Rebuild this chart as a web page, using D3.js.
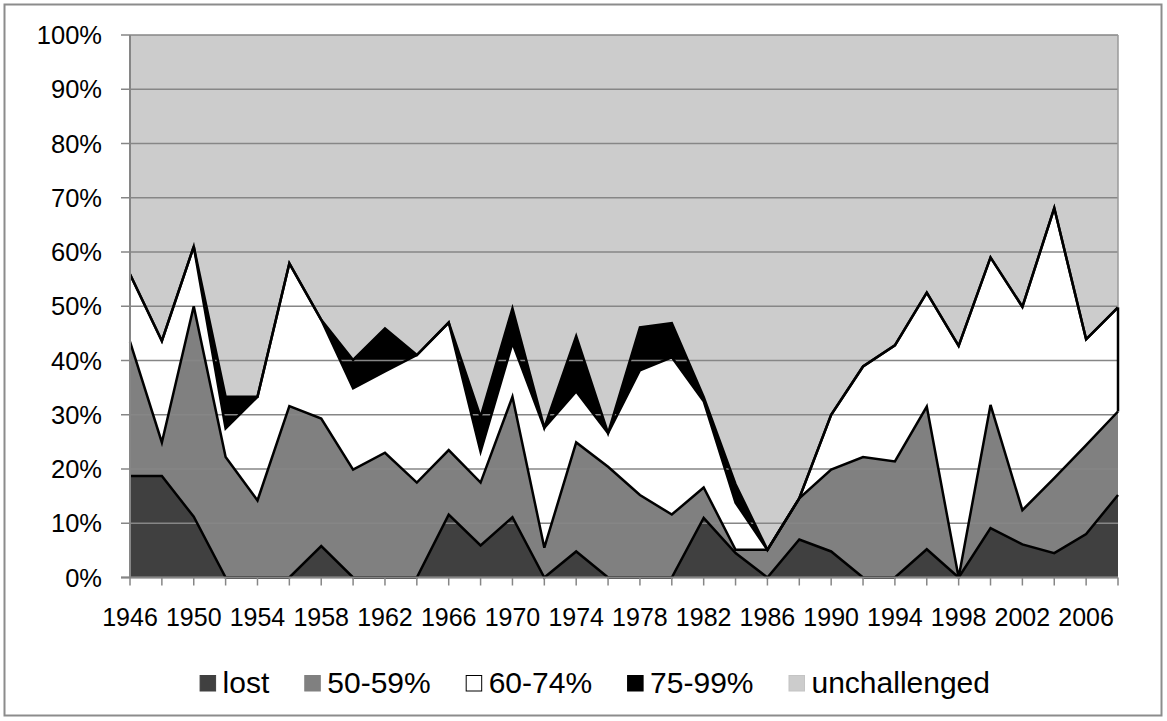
<!DOCTYPE html>
<html>
<head>
<meta charset="utf-8">
<script src="https://cdn.jsdelivr.net/npm/d3@7"></script>
<style>
html,body{margin:0;padding:0;background:#fff;}
svg{display:block;}
text{font-family:"Liberation Sans",Arial,sans-serif;fill:#000;}
</style>
</head>
<body>
<svg id="chart" width="1167" height="721"></svg>
<script>
// ---- data (percent of seats) ----
const years = [1946,1948,1950,1952,1954,1956,1958,1960,1962,1964,1966,1968,1970,1972,1974,1976,
               1978,1980,1982,1984,1986,1988,1990,1992,1994,1996,1998,2000,2002,2004,2006,2008];
const lost         = [18.7,18.7,11.2,0,0,0,5.8,0,0,0,11.6,5.9,11.1,0,4.8,0,0,0,11.0,4.5,0,7.0,4.8,0,0,5.2,0,9.1,6.1,4.5,8.0,15.2];
const pct50_59     = [24.8,6.2,38.8,22.2,14.2,31.6,23.5,19.9,23.0,17.5,11.9,11.6,22.2,5.5,20.1,20.4,15.2,11.6,5.6,0.6,5.1,7.6,15.1,22.2,21.4,26.3,0,22.7,6.3,13.8,16.4,15.4];
const pct60_74     = [12.4,18.7,11.0,5.3,19.1,26.3,18.2,15.0,15.0,23.5,23.5,5.7,9.9,22.1,9.4,6.2,23.0,29.0,15.9,8.7,0,0,10.1,16.7,21.4,21.0,42.7,27.2,37.5,49.8,19.5,19.2];
const pct75_99     = [0,0,0,5.8,0,0,0,5.2,7.9,0,0,6.4,6.4,0,10.2,0,7.9,6.3,0.8,3.4,0,0,0,0,0,0,0,0,0,0,0,0];
const unchallenged = [44.1,56.4,39.0,66.7,66.7,42.1,52.5,59.9,54.1,59.0,53.0,70.4,50.4,72.4,55.5,73.4,53.9,53.1,66.7,82.8,94.9,85.4,70.0,61.1,57.2,47.5,57.3,41.0,50.1,31.9,56.1,50.2];
const seriesNames  = ["lost","50-59%","60-74%","75-99%","unchallenged"];
const seriesValues = [lost,pct50_59,pct60_74,pct75_99,unchallenged];
const seriesColors = ["#404040","#808080","#ffffff","#000000","#cccccc"];
const yTicks = [0,10,20,30,40,50,60,70,80,90,100];
const xLabelYears = years.filter((y,i)=>i%2===0 && y<=2006);

// ---- layout ----
const svg = d3.select("#chart");
const L = 130, R = 1118, T = 35, B = 577.5;
const x = d3.scalePoint().domain(years).range([L,R]);
const y = d3.scaleLinear().domain([0,100]).range([B,T]);

// outer frame
svg.append("rect").attr("x",4.5).attr("y",4.5).attr("width",1157).attr("height",711)
  .attr("fill","#fff").attr("stroke","#8c8c8c").attr("stroke-width",2);

// stacked data
const rows = years.map((yr,i)=>{
  const o = {year:yr};
  seriesNames.forEach((n,k)=>o[n]=seriesValues[k][i]);
  return o;
});
const stacked = d3.stack().keys(seriesNames)(rows);

const area = d3.area().x(d=>x(d.data.year)).y0(d=>y(d[0])).y1(d=>y(d[1]));
svg.append("g").selectAll("path").data(stacked).join("path")
  .attr("d",area).attr("fill",(d,i)=>seriesColors[i]).attr("stroke","none");

// gridlines (over fills)
svg.append("g").selectAll("line").data(yTicks).join("line")
  .attr("x1",L-9).attr("x2",R).attr("y1",d=>y(d)).attr("y2",d=>y(d))
  .attr("stroke","#868686").attr("stroke-width",1.6);

// series outlines (top edges)
const topLine = d3.line().x(d=>x(d.data.year)).y(d=>y(d[1]));
svg.append("g").selectAll("path").data(stacked.slice(0,4)).join("path")
  .attr("d",topLine).attr("fill","none").attr("stroke","#000").attr("stroke-width",2.5)
  .attr("stroke-linejoin","miter");
// right edge of 60-74% band
const lastW = stacked[2][years.length-1];
svg.append("line").attr("x1",R).attr("x2",R).attr("y1",y(lastW[0])).attr("y2",y(lastW[1]))
  .attr("stroke","#000").attr("stroke-width",2.5);

// axes
svg.append("line").attr("x1",L).attr("x2",L).attr("y1",T).attr("y2",B)
  .attr("stroke","#868686").attr("stroke-width",2);
svg.append("line").attr("x1",R).attr("x2",R).attr("y1",T).attr("y2",y(lastW[1]))
  .attr("stroke","#9a9a9a").attr("stroke-width",1.5);
svg.append("line").attr("x1",L-9).attr("x2",R).attr("y1",B).attr("y2",B)
  .attr("stroke","#868686").attr("stroke-width",2);
svg.append("g").selectAll("line").data(years).join("line")
  .attr("x1",d=>x(d)).attr("x2",d=>x(d)).attr("y1",B).attr("y2",B+8)
  .attr("stroke","#868686").attr("stroke-width",1.5);

// y labels
svg.append("g").selectAll("text").data(yTicks).join("text")
  .attr("x",102).attr("y",d=>y(d)).attr("dy","0.36em").attr("text-anchor","end")
  .attr("font-size",25.5).text(d=>d+"%");
// x labels
svg.append("g").selectAll("text").data(xLabelYears).join("text")
  .attr("x",d=>x(d)).attr("y",626).attr("text-anchor","middle")
  .attr("font-size",25).text(d=>d);

// legend
const legendFont = 30;
const lg = svg.append("g");
const tmp = lg.append("text").attr("font-size",legendFont);
let pos = 0; const gapBox=6.5, gapItem=35, box=16.5;
const laid = seriesNames.map((n,i)=>{
  tmp.text(n); const tw = tmp.node().getComputedTextLength();
  const it = {n,i,x:pos,tw}; pos += box+gapBox+tw+gapItem; return it;
});
tmp.remove();
const totalW = pos - gapItem;
const startX = 990 - totalW;
laid.forEach(it=>{
  const g = lg.append("g").attr("transform",`translate(${startX+it.x},0)`);
  g.append("rect").attr("x",0.5).attr("y",675.5).attr("width",box-1).attr("height",box-1)
    .attr("fill",seriesColors[it.i]).attr("stroke", it.i===2?"#000":(it.i===4?"#c4c4c4":seriesColors[it.i])).attr("stroke-width",1);
  g.append("text").attr("x",box+gapBox).attr("y",693).attr("font-size",legendFont).text(it.n);
});
</script>
</body>
</html>
